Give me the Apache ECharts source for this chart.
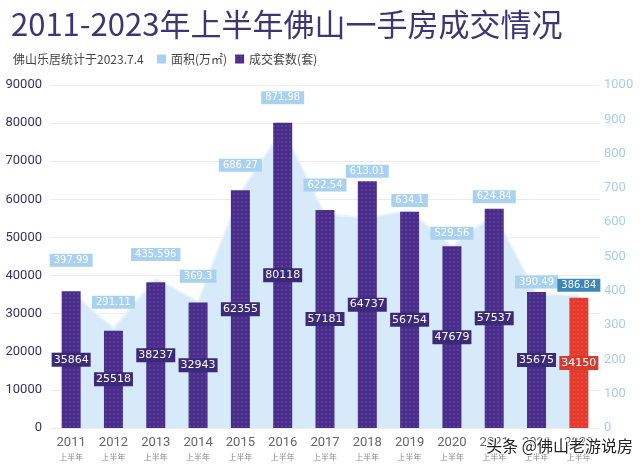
<!DOCTYPE html>
<html><head><meta charset="utf-8">
<script src="https://cdn.jsdelivr.net/npm/echarts@6/dist/echarts.min.js"></script>
<style>html,body{margin:0;padding:0;background:#fff}#c{width:640px;height:470px}</style>
</head><body><div id="c"></div>
<script>
var years = ['2011','2012','2013','2014','2015','2016','2017','2018','2019','2020','2021','2022','2023'];
var areaValues = [397.99, 291.11, 435.596, 369.3, 686.27, 871.98, 622.54, 613.01, 634.1, 529.56, 624.84, 390.49, 386.84];
var unitValues = [35864, 25518, 38237, 32943, 62355, 80118, 57181, 64737, 56754, 47679, 57537, 35675, 34150];
var leftTicks = {min: 0, max: 90000, interval: 10000};
var rightTicks = {min: 0, max: 1000, interval: 100};

// style: gap (px) between the higher of bar top / area point and the area label centre
var labelGap = [31, 26, 24, 25, 25, 25, 25, 10, 10, 13, 12, 10, 10];

var purple = '#4a2c8c', red = '#e5392b', lightBlue = '#a8d2f0';
var chart = echarts.init(document.getElementById('c'));
var barData = unitValues.map(function (v, i) {
  var last = i === unitValues.length - 1;
  return {value: v, itemStyle: {color: last ? red : purple},
    label: {backgroundColor: last ? '#d93a2e' : '#3b2a78'}};
});
function areaItems(offsets) {
  return areaValues.map(function (v, i) {
    var last = i === areaValues.length - 1;
    return {value: v, label: {backgroundColor: last ? '#3d86b8' : lightBlue,
      offset: [0, offsets ? offsets[i] : 0]}};
  });
}
function plain(v) { return String(v); }
chart.setOption({
  animation: false,
  title: [{
    text: '2011-2023年上半年佛山一手房成交情况', left: 6, top: 4,
    textStyle: {fontFamily: 'Noto Sans CJK SC', fontSize: 31, fontWeight: 'normal', color: '#3f3573'}
  }, {
    text: '佛山乐居统计于2023.7.4', left: 8, top: 48,
    textStyle: {fontFamily: 'Noto Sans CJK SC', fontSize: 12, fontWeight: 'normal', color: '#444'}
  }],
  legend: {
    left: 152, top: 48, itemWidth: 9, itemHeight: 9, itemGap: 8,
    textStyle: {fontFamily: 'Noto Sans CJK SC', fontSize: 12, color: '#444'},
    data: [{name: '面积(万㎡)', icon: 'rect'}, {name: '成交套数(套)', icon: 'rect'}]
  },
  grid: {left: 50, right: 40, top: 85, bottom: 42},
  xAxis: {
    type: 'category', data: years,
    axisLine: {show: false}, axisTick: {show: false},
    axisLabel: {
      interval: 0,
      formatter: function (v) { return '{y|' + v + '}\n{h|上半年}'; },
      margin: 6,
      rich: {
        y: {fontFamily: 'Roboto', fontSize: 13, color: '#666', lineHeight: 17},
        h: {fontFamily: 'Noto Sans CJK SC', fontSize: 8, color: '#888', lineHeight: 11}
      }
    }
  },
  yAxis: [{
    type: 'value', min: leftTicks.min, max: leftTicks.max, interval: leftTicks.interval,
    axisLabel: {fontFamily: 'Roboto', fontSize: 13, color: '#3b3262', margin: 8, formatter: plain},
    splitLine: {lineStyle: {color: '#ececec'}},
    axisLine: {show: false}, axisTick: {show: false}
  }, {
    type: 'value', min: rightTicks.min, max: rightTicks.max, interval: rightTicks.interval,
    axisLabel: {fontFamily: 'Roboto', fontSize: 13, color: '#a9cfe6', margin: 4, formatter: plain},
    splitLine: {show: false}, axisLine: {show: false}, axisTick: {show: false}
  }],
  series: [{
    name: '面积(万㎡)', type: 'line', yAxisIndex: 1, data: areaItems(null),
    symbol: 'circle', symbolSize: 0, showSymbol: true, z: 1,
    itemStyle: {color: lightBlue},
    lineStyle: {color: '#e8f3fc', width: 2},
    areaStyle: {color: '#d6eaf9', opacity: 1},
    label: {show: true, position: 'top', distance: 0, color: '#fff',
      fontFamily: 'DejaVu Sans', fontSize: 10, padding: [1, 4], lineHeight: 11}
  }, {
    name: '成交套数(套)', type: 'bar', yAxisIndex: 0, data: barData,
    barWidth: 19, z: 2,
    itemStyle: {color: purple, decal: {symbol: 'circle', symbolSize: 0.5, dashArrayX: [4, 0], dashArrayY: [4, 0], color: 'rgba(255,255,255,0.12)'}},
    label: {show: true, position: 'inside', color: '#fff', fontFamily: 'DejaVu Sans',
      fontSize: 11, padding: [1, 2], lineHeight: 12}
  }],
  graphic: [{
    type: 'text', right: 6, top: 437, z: 100,
    style: {text: '头条 @佛山老游说房', fontFamily: 'Noto Sans CJK SC', fontSize: 16,
      fill: '#222', stroke: '#fff', lineWidth: 2}
  }]
});
// place area labels just above the higher of the bar top and the area point
var boxHalf = 6.5;
var offsets = areaValues.map(function (v, i) {
  var pt = chart.convertToPixel({seriesIndex: 0}, [i, v])[1];
  var bt = chart.convertToPixel({seriesIndex: 1}, [i, unitValues[i]])[1];
  var centre = Math.min(pt, bt) - labelGap[i];
  return centre - (pt - boxHalf);
});
chart.setOption({series: [{data: areaItems(offsets)}]});
</script></body></html>
